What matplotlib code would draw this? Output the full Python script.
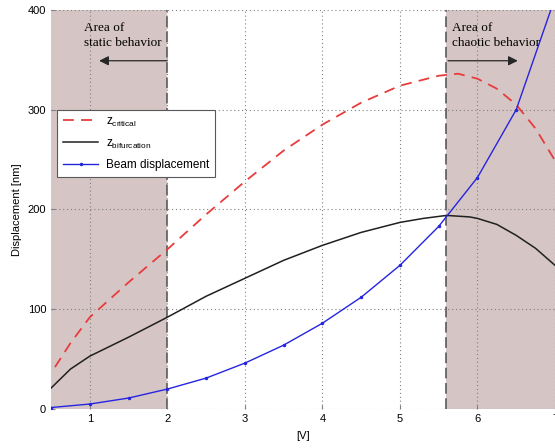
import matplotlib
matplotlib.use("Agg")
import matplotlib.pyplot as plt

# ---- data ----
beam_x = [0.5, 1.0, 1.5, 2.0, 2.5, 3.0, 3.5, 4.0, 4.5, 5.0, 5.5, 6.0, 6.5, 7.0]
beam_y = [1.5, 5, 11, 20, 31, 46, 64, 86, 112, 144, 183, 232, 300, 412]

bif_x = [0.5, 0.75, 1.0, 1.5, 2.0, 2.5, 3.0, 3.5, 4.0, 4.5, 5.0, 5.3, 5.6, 5.9, 6.0, 6.25, 6.5, 6.75, 7.0]
bif_y = [21, 40, 53, 72, 92, 113, 131, 149, 164, 177, 187, 191, 194, 192.5, 191, 185, 174, 161, 144]

crit_x = [0.55, 0.75, 1.0, 1.5, 2.0, 2.5, 3.0, 3.5, 4.0, 4.5, 5.0, 5.5, 5.75, 6.0, 6.25, 6.5, 6.75, 7.0]
crit_y = [42, 66, 92, 127, 160, 195, 228, 259, 285, 307, 324, 334, 336, 331, 321, 305, 281, 249]

static_limit = 2.0
chaotic_limit = 5.6
x_range = (0.5, 7.0)
y_range = (0, 400)
x_ticks = [1, 2, 3, 4, 5, 6, 7]
y_ticks = [0, 100, 200, 300, 400]

fig = plt.figure(figsize=(5.55, 4.48), dpi=100)
ax = fig.add_axes([0.092, 0.087, 0.908, 0.891])

shade = '#d6c5c5'
ax.axvspan(x_range[0], static_limit, color=shade, zorder=0, lw=0)
ax.axvspan(chaotic_limit, x_range[1], color=shade, zorder=0, lw=0)

ax.axvline(static_limit, color='0.3', ls=(0, (7, 3)), lw=1.1, zorder=1)
ax.axvline(chaotic_limit, color='0.3', ls=(0, (7, 3)), lw=1.1, zorder=1)

ax.plot(crit_x, crit_y, color='#e83c3c', ls=(0, (6, 4)), lw=1.3,
        label=r'z$_\mathregular{critical}$', zorder=3)
ax.plot(bif_x, bif_y, color='#202020', lw=1.1,
        label=r'z$_\mathregular{bifurcation}$', zorder=3)
ax.plot(beam_x, beam_y, color='#2525e0', lw=1.0, marker='.', ms=3,
        label='Beam displacement', zorder=3)

ax.set_xlim(*x_range)
ax.set_ylim(*y_range)
ax.set_xticks(x_ticks)
ax.set_yticks(y_ticks)
ax.grid(True, color='0.5', ls=(0, (1, 2.5)), lw=0.8)
ax.set_axisbelow(False)
for s in ax.spines.values():
    s.set_visible(False)
ax.tick_params(direction='in', length=3, color='0.5', labelsize=8)
for lbl in ax.get_xticklabels() + ax.get_yticklabels():
    lbl.set_family('Liberation Sans')

ax.set_xlabel('[V]', fontsize=8, family='Liberation Sans', labelpad=5)
ax.set_ylabel('Displacement [nm]', fontsize=8, family='Liberation Sans', labelpad=4)

# annotations
ax.text(0.92, 388, 'Area of\nstatic behavior', family='Liberation Serif', fontsize=9.5,
        va='top', ha='left', linespacing=1.3)
ax.annotate('', xy=(1.12, 349), xytext=(static_limit, 349),
            arrowprops=dict(arrowstyle='-|>', color='0.15', lw=0.9,
                            mutation_scale=14, shrinkA=0, shrinkB=0))
ax.text(5.67, 388, 'Area of\nchaotic behavior', family='Liberation Serif', fontsize=9.5,
        va='top', ha='left', linespacing=1.3)
ax.annotate('', xy=(6.52, 349), xytext=(chaotic_limit + 0.02, 349),
            arrowprops=dict(arrowstyle='-|>', color='0.15', lw=0.9,
                            mutation_scale=14, shrinkA=0, shrinkB=0))

leg = ax.legend(loc='upper left', bbox_to_anchor=(0.012, 0.75), borderaxespad=0,
                prop={'family': 'Liberation Sans', 'size': 8.5}, fancybox=False,
                framealpha=1, edgecolor='0.35', handlelength=3.0, labelspacing=0.75,
                borderpad=0.5, handletextpad=0.6)
leg.get_frame().set_linewidth(0.8)

fig.savefig('out.png', dpi=100)
